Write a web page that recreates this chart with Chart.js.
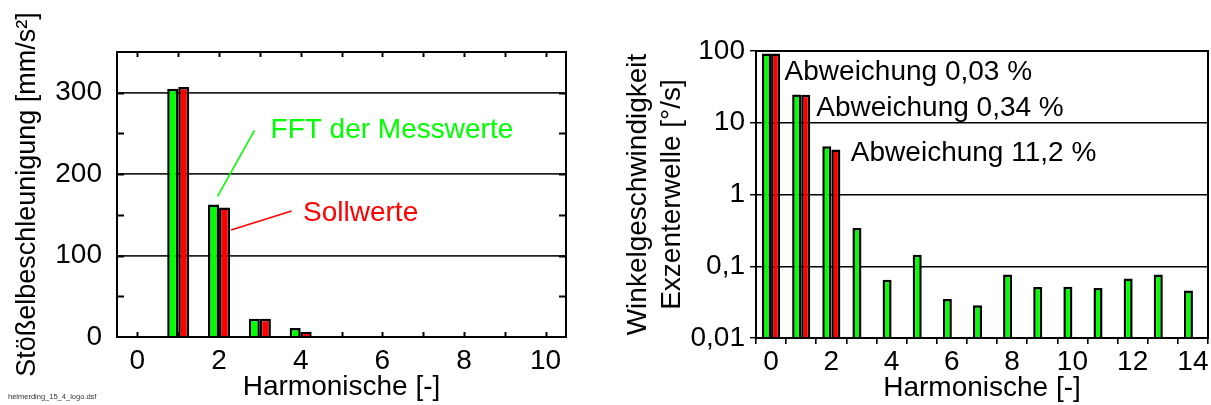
<!DOCTYPE html>
<html>
<head>
<meta charset="utf-8">
<script src="https://cdn.jsdelivr.net/npm/chart.js@4.4.1/dist/chart.umd.min.js"></script>
<style>
  html, body { margin: 0; padding: 0; background: #fff; }
  #wrap { position: relative; width: 1211px; height: 405px; overflow: hidden; background: #fff; }
  #accel { position: absolute; left: 0; top: 0; }
  #speed { position: absolute; left: 605px; top: 0; }
  #file { position: absolute; left: 8px; top: 392px; font: 7.5px 'Liberation Sans', Arial, sans-serif; color: #333; white-space: nowrap; }
</style>
</head>
<body>
<div id="wrap">
  <canvas id="accel" width="605" height="405"></canvas>
  <canvas id="speed" width="606" height="405"></canvas>
  <div id="file">helmerding_15_4_logo.dsf</div>
</div>
<script>
// ---- Stößelbeschleunigung (linear axis) ----
const accelHarmonics = ['0', '1', '2', '3', '4', '5', '6', '7', '8', '9', '10'];
const accelMeasured = [0.5, 305, 162.8, 22.4, 11, 0.8, 0.6, 0.4, 0.6, 0.5, 0.5];
const accelNominal  = [0.3, 307, 159, 22.4, 6.5, 0.3, 0.3, 0.3, 0.3, 0.3, 0.3];
const accelTicks = [0, 100, 200, 300];
const accelMax = 350;
const accelMinorStep = 50;

// ---- Winkelgeschwindigkeit Exzenterwelle (log axis) ----
const speedHarmonics = ['0', '1', '2', '3', '4', '5', '6', '7', '8', '9', '10', '11', '12', '13', '14'];
const speedMeasured = [92, 24.7, 4.70, 0.341, 0.065, 0.145, 0.035, 0.0286, 0.0765, 0.0514, 0.052, 0.0498, 0.0673, 0.0765, 0.0458];
const speedNominal  = [91.97, 24.616, 4.227, null, null, null, null, null, null, null, null, null, null, null, null];
const speedTicks = [0.01, 0.1, 1, 10, 100];
const deviationLabels = ['Abweichung 0,03 %', 'Abweichung 0,34 %', 'Abweichung 11,2 %'];

const GREEN = '#00ff00';
const RED = '#ff0000';
const FONT = "'Liberation Sans', Arial, Helvetica, sans-serif";

Chart.defaults.font.family = FONT;
Chart.defaults.color = '#000';
Chart.defaults.animation = false;

// Black frame round the plot area
const frame = {
  id: 'frame',
  afterDatasetsDraw(chart) {
    const { ctx, chartArea: a } = chart;
    ctx.save();
    ctx.strokeStyle = '#000';
    ctx.lineWidth = 2;
    ctx.strokeRect(a.left, a.top, a.right - a.left, a.bottom - a.top);
    ctx.restore();
  }
};

// Inward tick marks on all four sides of the acceleration plot
const innerTicks = {
  id: 'innerTicks',
  afterDatasetsDraw(chart) {
    const { ctx, chartArea: a, scales: { x, y } } = chart;
    ctx.save();
    ctx.strokeStyle = '#000';
    ctx.lineWidth = 2;
    ctx.beginPath();
    for (let v = accelMinorStep; v < accelMax; v += accelMinorStep) {
      const py = Math.round(y.getPixelForValue(v)) + 0.5;
      ctx.moveTo(a.left, py); ctx.lineTo(a.left + 7, py);
      ctx.moveTo(a.right, py); ctx.lineTo(a.right - 7, py);
    }
    accelHarmonics.forEach((_, i) => {
      const px = Math.round(x.getPixelForValue(i)) + 0.5;
      ctx.moveTo(px, a.top); ctx.lineTo(px, a.top + 5);
      ctx.moveTo(px, a.bottom); ctx.lineTo(px, a.bottom - 5);
    });
    ctx.stroke();
    ctx.restore();
  }
};

// Callouts naming the two series, with leader lines to the 2nd harmonic
const seriesCallouts = {
  id: 'seriesCallouts',
  afterDraw(chart) {
    const { ctx } = chart;
    const g = chart.getDatasetMeta(0).data[2];
    const r = chart.getDatasetMeta(1).data[2];
    ctx.save();
    ctx.lineWidth = 1.6;
    ctx.font = '28px ' + FONT;
    ctx.textBaseline = 'alphabetic';
    ctx.textAlign = 'left';

    const gs = { x: g.x + 41, y: g.y - 74 };
    ctx.strokeStyle = GREEN;
    ctx.beginPath(); ctx.moveTo(gs.x, gs.y); ctx.lineTo(g.x + 4, g.y - 8); ctx.stroke();
    ctx.fillStyle = GREEN;
    ctx.fillText('FFT der Messwerte', gs.x + 16, gs.y + 8);

    const rs = { x: r.x + 67, y: r.y + 3.5 };
    ctx.strokeStyle = RED;
    ctx.beginPath(); ctx.moveTo(rs.x, rs.y); ctx.lineTo(r.x + r.width / 2 + 1, r.y + 22.5); ctx.stroke();
    ctx.fillStyle = RED;
    ctx.fillText('Sollwerte', rs.x + 11.5, rs.y + 10);
    ctx.restore();
  }
};

// Deviation notes beside the first three harmonics
const deviationNotes = {
  id: 'deviationNotes',
  afterDraw(chart) {
    const { ctx } = chart;
    const gaps = [4.5, 6, 10.5];
    const drops = [26, 21.7, 14.7];
    ctx.save();
    ctx.font = '28px ' + FONT;
    ctx.fillStyle = '#000';
    ctx.textAlign = 'left';
    ctx.textBaseline = 'alphabetic';
    deviationLabels.forEach((txt, i) => {
      const g = chart.getDatasetMeta(0).data[i];
      const r = chart.getDatasetMeta(1).data[i];
      ctx.fillText(txt, r.x + r.width / 2 + gaps[i], g.y + drops[i]);
    });
    ctx.restore();
  }
};

const barStyle = { borderColor: '#000', borderWidth: 2.5, borderSkipped: 'start' };

new Chart(document.getElementById('accel'), {
  type: 'bar',
  data: {
    labels: accelHarmonics,
    datasets: [
      { label: 'FFT der Messwerte', data: accelMeasured, backgroundColor: GREEN, ...barStyle },
      { label: 'Sollwerte', data: accelNominal, backgroundColor: RED, ...barStyle }
    ]
  },
  options: {
    responsive: false,
    devicePixelRatio: 1,
    categoryPercentage: 0.54,
    barPercentage: 1,
    layout: { padding: { top: 52, right: 39, left: 0, bottom: 0 } },
    plugins: { legend: { display: false }, tooltip: { enabled: false } },
    scales: {
      x: {
        type: 'category',
        grid: { display: false, drawTicks: false },
        border: { display: false },
        ticks: {
          autoSkip: false, maxRotation: 0, padding: 7,
          font: { size: 28 },
          callback: (v, i) => (i % 2 === 0 ? accelHarmonics[i] : '')
        },
        title: { display: true, text: 'Harmonische [-]', font: { size: 28 }, padding: { top: 0, bottom: 1 } },
        afterFit: s => { s.height = 68; }
      },
      y: {
        type: 'linear',
        min: 0,
        max: accelMax,
        afterBuildTicks: s => { s.ticks = accelTicks.map(v => ({ value: v })); },
        grid: { color: '#222', lineWidth: 1.8, drawTicks: false },
        border: { display: false },
        ticks: { padding: 15, font: { size: 28 } },
        title: { display: true, text: 'Stößelbeschleunigung [mm/s²]', font: { size: 27 }, padding: { top: 11, bottom: 0 } },
        afterFit: s => { s.width = 117; }
      }
    }
  },
  plugins: [innerTicks, frame, seriesCallouts]
});

new Chart(document.getElementById('speed'), {
  type: 'bar',
  data: {
    labels: speedHarmonics,
    datasets: [
      { label: 'FFT der Messwerte', data: speedMeasured, backgroundColor: GREEN, ...barStyle },
      { label: 'Sollwerte', data: speedNominal, backgroundColor: RED, ...barStyle }
    ]
  },
  options: {
    responsive: false,
    devicePixelRatio: 1,
    categoryPercentage: 0.6,
    barPercentage: 1,
    layout: { padding: { top: 51, right: 3, left: 0, bottom: 0 } },
    plugins: { legend: { display: false }, tooltip: { enabled: false } },
    scales: {
      x: {
        type: 'category',
        grid: { offset: true, drawOnChartArea: false, drawTicks: true, tickLength: 6, color: '#000', lineWidth: 1.6 },
        border: { display: false },
        ticks: {
          autoSkip: false, maxRotation: 0, padding: 1,
          font: { size: 28 },
          callback: (v, i) => (i % 2 === 0 ? speedHarmonics[i] : '')
        },
        title: { display: true, text: 'Harmonische [-]', font: { size: 28 }, padding: { top: 0, bottom: 0 } },
        afterFit: s => { s.height = 67; }
      },
      y: {
        type: 'logarithmic',
        min: 0.01,
        max: 100,
        afterBuildTicks: s => { s.ticks = speedTicks.map(v => ({ value: v })); },
        grid: { color: '#000', lineWidth: 1.4, drawTicks: true, tickLength: 6 },
        border: { display: false },
        ticks: { padding: 5, font: { size: 28 }, callback: v => String(v).replace('.', ',') },
        title: {
          display: true,
          text: ['Winkelgeschwindigkeit', 'Exzenterwelle [°/s]'],
          font: { size: 28, lineHeight: 34 / 28 },
          padding: { top: 16, bottom: 0 }
        },
        afterFit: s => { s.width = 151; }
      }
    }
  },
  plugins: [frame, deviationNotes]
});
</script>
</body>
</html>
